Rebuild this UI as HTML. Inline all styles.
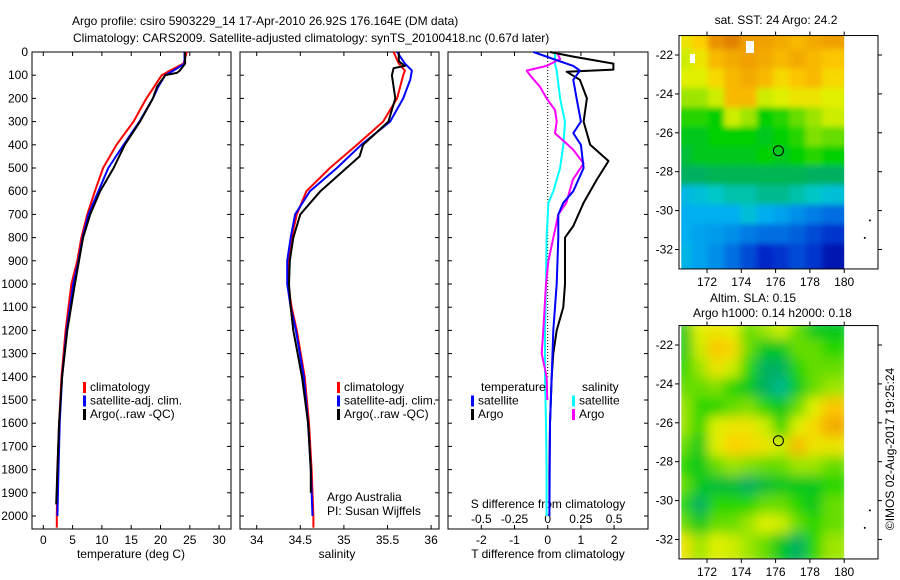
<!DOCTYPE html>
<html><head><meta charset="utf-8"><style>
body{margin:0;background:#fff}
svg{display:block;font-family:"Liberation Sans",sans-serif;font-size:12px}
</style></head><body>
<svg id="c" width="900" height="580" viewBox="0 0 900 580">
<text x="72" y="25">Argo profile: csiro 5903229_14 17-Apr-2010 26.92S 176.164E (DM data)</text>
<text x="73" y="42">Climatology: CARS2009. Satellite-adjusted climatology: synTS_20100418.nc (0.67d later)</text>
<text x="776" y="24" text-anchor="middle">sat. SST: 24 Argo: 24.2</text>
<text x="710" y="302">Altim. SLA: 0.15</text>
<text x="693" y="317">Argo h1000: 0.14 h2000: 0.18</text>
<text transform="translate(894,449) rotate(-90)" text-anchor="middle">©IMOS 02-Aug-2017 19:25:24</text>
<text x="327" y="501">Argo Australia</text>
<text x="327" y="515">PI: Susan Wijffels</text>
</svg>
<script>
const NS='http://www.w3.org/2000/svg';
const svg=document.getElementById('c');
function mk(tag,attrs,parent){const e=document.createElementNS(NS,tag);for(const k in attrs)e.setAttribute(k,attrs[k]);(parent||svg).appendChild(e);return e;}

// ---- data ----
const tDepths=[0,50,80,100,150,200,300,400,500,600,700,800,900,1000,1200,1400,1600,1800,2000,2050];
const tClim=[24.5,23.9,21.6,20.2,18.9,17.6,15.4,12.5,10.2,8.8,7.5,6.5,5.8,4.8,3.8,3.1,2.7,2.4,2.3,2.3];
const tSatDepths=[0,50,80,100,150,200,300,400,500,600,700,800,900,1000,1200,1400,1600,1800,2000];
const tSat=[24.1,24.1,22.2,20.8,19.6,18.7,16.4,13.7,11.1,9.4,7.7,6.7,6.0,5.1,4.0,3.2,2.8,2.6,2.4];
const tArgoDepths=[0,50,80,90,100,150,200,300,400,500,600,700,800,900,1000,1200,1400,1600,1800,1950];
const tArgo=[24.2,24.2,23.3,22.8,20.8,19.4,18.7,16.5,13.9,12.0,9.7,8.0,6.8,6.1,5.4,4.1,3.2,2.7,2.4,2.2];

const sDepths=[0,50,80,100,200,300,400,500,600,700,800,900,1000,1100,1200,1400,1600,1800,2000,2050];
const sClim=[35.57,35.63,35.70,35.68,35.61,35.45,35.15,34.84,34.57,34.46,34.40,34.36,34.36,34.40,34.46,34.55,34.60,34.63,34.65,34.65];
const sSatDepths=[0,50,80,120,200,300,400,500,600,700,800,900,1000,1100,1200,1400,1600,1800,2000];
const sSat=[35.61,35.70,35.78,35.76,35.68,35.53,35.20,34.92,34.61,34.44,34.39,34.35,34.35,34.39,34.45,34.54,34.59,34.62,34.64];
const sArgoDepths=[0,40,60,70,100,200,300,400,450,500,600,700,800,900,1000,1100,1200,1400,1600,1800,1900];
const sArgo=[35.63,35.63,35.70,35.57,35.55,35.59,35.51,35.22,35.18,35.03,34.73,34.50,34.42,34.38,34.37,34.39,34.42,34.52,34.59,34.62,34.62];

const dTSatDepths=[0,30,60,80,120,200,300,350,400,500,600,650,700,800,1000,1200,1400,1600,2000];
const dTSat=[-0.43,0.17,0.77,0.97,0.77,0.87,1.0,0.77,1.0,1.08,0.77,0.47,0.32,0.32,0.27,0.17,0.12,0.07,0.05];
const dTArgoDepths=[0,20,50,76,85,120,200,300,400,470,550,650,750,800,900,1000,1100,1200,1300,1400,1600,1800,1950];
const dTArgo=[0.07,0.77,1.98,1.98,0.57,0.97,1.18,1.08,1.28,1.83,1.48,1.08,0.77,0.52,0.52,0.52,0.47,0.27,0.17,0.12,0.07,0.05,0.05];
const dSSatDepths=[0,50,80,200,300,400,500,600,650,800,1000,1200,1400,1600,1800,2000];
const dSSat=[0.055,0.055,0.068,0.093,0.13,0.118,0.093,0.043,0.005,-0.008,-0.013,-0.02,-0.02,-0.013,-0.008,-0.008];
const dSArgoDepths=[0,30,60,80,100,150,200,250,300,350,420,480,550,650,700,800,900,1000,1200,1300,1400,1500];
const dSArgo=[0.068,0.093,-0.008,-0.158,-0.133,-0.058,-0.008,0.055,0.068,0.055,0.19,0.27,0.19,0.14,0.08,0.043,0.005,-0.013,-0.033,-0.045,-0.008,-0.003];

const depthTicks=[0,100,200,300,400,500,600,700,800,900,1000,1100,1200,1300,1400,1500,1600,1700,1800,1900,2000];
const tTicks=[0,5,10,15,20,25,30];
const sTicks=[34,34.5,35,35.5,36];
const dTTicks=[-2,-1,0,1,2];
const dSTicks=[-0.5,-0.25,0,0.25,0.5];
const lonTicks=[172,174,176,178,180];
const latTicks=[-22,-24,-26,-28,-30,-32];

const sstGrid=[
[0.75,0.8,0.92,0.95,0.9,0.9,0.88,0.85,0.88,0.9],
[0.7,0.75,0.85,0.88,0.9,0.88,0.85,0.88,0.85,0.82],
[0.72,0.72,0.78,0.85,0.88,0.85,0.78,0.82,0.85,0.78],
[0.65,0.65,0.7,0.85,0.85,0.7,0.72,0.75,0.75,0.72],
[0.55,0.55,0.52,0.7,0.65,0.52,0.55,0.6,0.65,0.7],
[0.5,0.5,0.52,0.52,0.52,0.5,0.52,0.55,0.62,0.6],
[0.48,0.5,0.5,0.5,0.5,0.52,0.5,0.52,0.55,0.52],
[0.45,0.45,0.46,0.46,0.46,0.46,0.46,0.46,0.45,0.45],
[0.33,0.35,0.38,0.4,0.4,0.42,0.42,0.4,0.38,0.35],
[0.3,0.3,0.3,0.3,0.35,0.3,0.28,0.25,0.22,0.2],
[0.3,0.28,0.27,0.25,0.22,0.2,0.2,0.18,0.15,0.12],
[0.32,0.28,0.25,0.2,0.15,0.1,0.12,0.15,0.12,0.06]];
const slaGrid=[
[0.5,0.72,0.75,0.72,0.6,0.65,0.7,0.6,0.5,0.5],
[0.5,0.7,0.82,0.78,0.6,0.5,0.5,0.6,0.6,0.55],
[0.55,0.65,0.75,0.7,0.55,0.45,0.45,0.55,0.6,0.6],
[0.6,0.6,0.62,0.55,0.5,0.45,0.42,0.5,0.6,0.65],
[0.65,0.55,0.55,0.6,0.62,0.55,0.5,0.6,0.72,0.82],
[0.65,0.55,0.72,0.75,0.75,0.7,0.55,0.72,0.78,0.88],
[0.6,0.5,0.72,0.8,0.78,0.75,0.7,0.85,0.75,0.75],
[0.55,0.5,0.6,0.65,0.62,0.6,0.6,0.65,0.65,0.6],
[0.6,0.5,0.48,0.48,0.45,0.48,0.5,0.5,0.5,0.55],
[0.55,0.45,0.55,0.55,0.55,0.6,0.6,0.55,0.5,0.6],
[0.6,0.5,0.6,0.6,0.65,0.72,0.7,0.6,0.55,0.6],
[0.75,0.65,0.72,0.7,0.65,0.6,0.5,0.45,0.55,0.65]];

// ---- scales ----
const Y=d=>52+d*0.232;
const panels=[{x0:32,x1:231},{x0:240,x1:439},{x0:448,x1:648}];
const XT=t=>43.3+t*5.86;
const XS=s=>256.7+(s-34)*87.2;
const XdT=v=>547.7+v*33.2;
const XdS=v=>547.7+v*132.8;
const TOP=52,BOT=529;

panels.forEach((p,i)=>{
  const r=mk('rect',{x:p.x0,y:TOP,width:p.x1-p.x0,height:BOT-TOP,fill:'none',stroke:'#000','stroke-width':1});
  
  
  depthTicks.forEach(d=>{
    mk('line',{x1:p.x0,x2:p.x0+4,y1:Y(d),y2:Y(d),stroke:'#000'});
    mk('line',{x1:p.x1-4,x2:p.x1,y1:Y(d),y2:Y(d),stroke:'#000'});
  });
});
depthTicks.forEach(d=>{
  const t=mk('text',{x:28,y:Y(d)+4,'text-anchor':'end'});t.textContent=d;
  
  
});
function xTicks(ticks,X,p,labelY){
  ticks.forEach(v=>{
    const x=X(v);
    mk('line',{x1:x,x2:x,y1:BOT,y2:BOT-4,stroke:'#000'});
    mk('line',{x1:x,x2:x,y1:TOP,y2:TOP+4,stroke:'#000'});
    const t=mk('text',{x:x,y:labelY,'text-anchor':'middle'});t.textContent=v;
    
    
  });
}
xTicks(tTicks,XT,panels[0],544);
xTicks(sTicks,XS,panels[1],544);
xTicks(dTTicks,XdT,panels[2],544);
dSTicks.forEach(v=>{
  const t=mk('text',{x:XdS(v),y:523,'text-anchor':'middle'});t.textContent=v;
  
  
});
[['temperature (deg C)',131,558,'temperature-axis-title'],['salinity',337,558,'salinity-axis-title'],['T difference from climatology',548,558,'t-diff-axis-title'],['S difference from climatology',548,508,'s-diff-axis-title']].forEach(a=>{
  const t=mk('text',{x:a[1],y:a[2],'text-anchor':'middle'});t.textContent=a[0];
  
  
});
const zl=mk('line',{x1:XdT(0),x2:XdT(0),y1:52,y2:Y(1400),stroke:'#000','stroke-dasharray':'1,2'});



function series(depths,vals,X,color,name,w){
  const pts=depths.map((d,i)=>X(vals[i]).toFixed(1)+','+Y(d).toFixed(1)).join(' ');
  const l=mk('polyline',{points:pts,fill:'none',stroke:color,'stroke-width':w||2,'stroke-linejoin':'round'});
  
  
}
series(tDepths,tClim,XT,'#f00','temp-climatology-line');
series(tSatDepths,tSat,XT,'#00f','temp-satellite-line');
series(tArgoDepths,tArgo,XT,'#000','temp-argo-line');
series(sDepths,sClim,XS,'#f00','sal-climatology-line');
series(sSatDepths,sSat,XS,'#00f','sal-satellite-line');
series(sArgoDepths,sArgo,XS,'#000','sal-argo-line');
series(dSSatDepths,dSSat,XdS,'#0ff','sdiff-satellite-line');
series(dSArgoDepths,dSArgo,XdS,'#f0f','sdiff-argo-line');
series(dTArgoDepths,dTArgo,XdT,'#000','tdiff-argo-line');
series(dTSatDepths,dTSat,XdT,'#00f','tdiff-satellite-line');

function legend(x,y,color,label,name){
  const b=mk('rect',{x:x,y:y-9,width:3,height:11,fill:color});
  
  
  const t=mk('text',{x:x+7,y:y});t.textContent=label;
  
  
}
[['climatology','#f00'],['satellite-adj. clim.','#00f'],['Argo(..raw -QC)','#000']].forEach((a,i)=>legend(83,391+i*13.5,a[1],a[0],'temp-legend-entry-'+(i+1)));
[['climatology','#f00'],['satellite-adj. clim.','#00f'],['Argo(..raw -QC)','#000']].forEach((a,i)=>legend(337,391+i*13.5,a[1],a[0],'sal-legend-entry-'+(i+1)));
{const t=mk('text',{x:481,y:391});t.textContent='temperature';}
{const t=mk('text',{x:582,y:391});t.textContent='salinity';}
legend(471,404.5,'#00f','satellite','diff-legend-t-satellite');
legend(471,418,'#000','Argo','diff-legend-t-argo');
legend(572,404.5,'#0ff','satellite','diff-legend-s-satellite');
legend(572,418,'#f0f','Argo','diff-legend-s-argo');

// ---- maps ----
const stops=[[0,[0,0,140]],[0.1,[0,40,200]],[0.2,[0,110,225]],[0.3,[0,175,240]],[0.38,[0,200,200]],[0.45,[0,176,96]],[0.52,[0,208,0]],[0.62,[128,224,0]],[0.72,[224,240,0]],[0.8,[255,208,0]],[0.9,[240,160,0]],[1,[208,96,0]]];
function cmap(v){
  for(let i=1;i<stops.length;i++){if(v<=stops[i][0]){const a=stops[i-1],b=stops[i],f=(v-a[0])/(b[0]-a[0]);
    return 'rgb('+a[1].map((c,k)=>Math.round(c+(b[1][k]-c)*f)).join(',')+')';}}
  return 'rgb(208,96,0)';
}
function map(grid,latY0,name,blur){
  const LX=lon=>707+(lon-172)*17.15;
  const LY=lat=>latY0+(-22-lat)*19.45;
  const g=mk('g',{});
  
  
  const cid=name+'-clip';
  const cp=mk('clipPath',{id:cid});mk('rect',{x:LX(170.5),y:LY(-21),width:LX(180)-LX(170.5),height:LY(-33)-LY(-21)},cp);
  g.setAttribute('clip-path','url(#'+cid+')');
  const f=mk('filter',{id:name+'-blur',x:'-5%',y:'-5%',width:'110%',height:'110%'});mk('feGaussianBlur',{stdDeviation:blur},f);
  const inner=mk('g',{filter:'url(#'+name+'-blur)'},g);
  const nc=grid[0].length,nr=grid.length,dl=9.5/nc,dr=12/nr;
  grid.forEach((row,r)=>row.forEach((v,c)=>{
    const cell=mk('rect',{x:LX(170.5+c*dl)-6,y:LY(-21-r*dr)-6,width:LX(170.5+dl)-LX(170.5)+12,height:LY(-21-dr)-LY(-21)+12,fill:cmap(v)},inner);
    
    
  }));
  const fr=mk('rect',{x:679,y:LY(-21),width:199,height:LY(-33)-LY(-21),fill:'none',stroke:'#000'});
  
  
  lonTicks.forEach(l=>{const x=LX(l);mk('line',{x1:x,x2:x,y1:LY(-33),y2:LY(-33)+4,stroke:'#000'});mk('line',{x1:x,x2:x,y1:LY(-21),y2:LY(-21)-4,stroke:'#000'});
    const t=mk('text',{x:x,y:LY(-33)+17,'text-anchor':'middle'});t.textContent=l;});
  latTicks.forEach(l=>{const y=LY(l);mk('line',{x1:679,x2:675,y1:y,y2:y,stroke:'#000'});mk('line',{x1:878,x2:882,y1:y,y2:y,stroke:'#000'});
    const t=mk('text',{x:673,y:y+4,'text-anchor':'end'});t.textContent=l;});
  const m=mk('circle',{cx:LX(176.164),cy:LY(-26.92),r:5,fill:'none',stroke:'#000'});
  
  
  mk('circle',{cx:LX(181.5),cy:LY(-30.5),r:1,fill:'#000'});
  mk('circle',{cx:LX(181.2),cy:LY(-31.4),r:1,fill:'#000'});
}
map(sstGrid,55,'sst-map',3);
map(slaGrid,345,'sla-map',6);
mk('rect',{x:746,y:41,width:8,height:12,fill:'#fff'});
mk('rect',{x:690,y:54,width:5,height:9,fill:'#fff'});
</script>
</body></html>
